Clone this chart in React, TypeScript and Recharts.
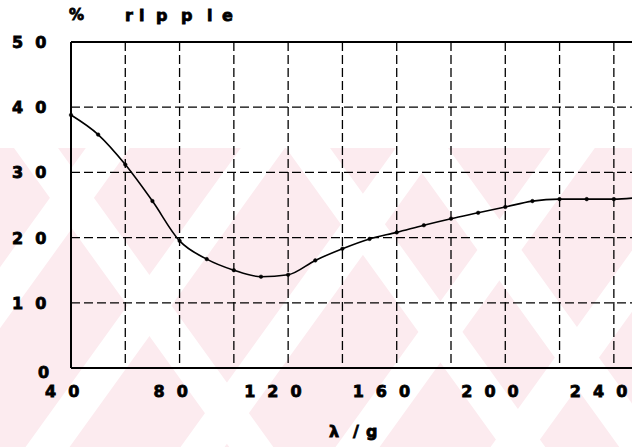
import { CartesianGrid, Line, LineChart, ReferenceLine, XAxis, YAxis } from "recharts";

const LAMBDA = [40, 50, 60, 70, 80, 90, 100, 110, 120, 130, 140, 150, 160, 170, 180, 190, 200, 210, 220, 230, 240, 250];
const RIPPLE = [38.8, 35.8, 31.2, 25.6, 19.5, 16.7, 15.0, 14.0, 14.3, 16.5, 18.3, 19.8, 20.8, 21.9, 22.9, 23.8, 24.7, 25.6, 25.9, 25.9, 25.9, 26.2];
const X_TICKS = [40, 60, 80, 100, 120, 140, 160, 180, 200, 220, 240];
const Y_TICKS = [0, 10, 20, 30, 40, 50];
const X_LABELED = [40, 80, 120, 160, 200, 240];

const data = LAMBDA.map((x, i) => ({ x, y: RIPPLE[i] }));

const FONT = "'DejaVu Sans', sans-serif";
const PINK = "#fcebef";

// faint scanned watermark: white diagonal bands over a pink field
const RISING = [2, 157, 312, 467, 622]; // band centre x at y=295
const FALLING = [36, 308, 426]; // band centre x at y=148
const RUN = 0.72;
const HALF = 22;

function rising(xc: number) {
  const top = xc + (295 - 148) * RUN;
  const bot = xc - (447 - 295) * RUN;
  return `${top - HALF},148 ${top + HALF},148 ${bot + HALF},447 ${bot - HALF},447`;
}

function falling(xc: number) {
  const bot = xc + (447 - 148) * RUN;
  return `${xc - HALF},148 ${xc + HALF},148 ${bot + HALF},447 ${bot - HALF},447`;
}

// digits spaced out like the original lettering
function Spaced({ text, x, y, gap = 12, size = 16 }: any) {
  return (
    <text x={x} y={y} fontFamily={FONT} fontWeight="bold" fontSize={size} fill="#000" stroke="#000" strokeWidth={0.8}>
      {text.split("").map((c: string, i: number) => (
        <tspan key={i} dx={i ? gap : 0}>
          {c}
        </tspan>
      ))}
    </text>
  );
}

function XTick({ x, y, payload }: any) {
  const v = payload.value;
  if (!X_LABELED.includes(v)) return null;
  const s = String(v);
  return <Spaced text={s} x={x - (s.length === 2 ? 26 : 44)} y={y + 21} />;
}

function YTick({ y, payload }: any) {
  const s = String(payload.value);
  return <Spaced text={s} x={s.length === 1 ? 38 : 12} y={y + (s.length === 1 ? 10 : 6)} />;
}

export default function App() {
  return (
    <div
      style={{
        position: "fixed",
        left: 0,
        top: 0,
        width: 632,
        height: 447,
        overflow: "hidden",
        background: "#fff",
      }}
    >
      <svg width={632} height={447} style={{ position: "absolute", left: 0, top: 0 }}>
        <rect x={0} y={148} width={632} height={299} fill={PINK} />
        {RISING.map((c) => (
          <polygon key={"r" + c} points={rising(c)} fill="#fff" />
        ))}
        {FALLING.map((c) => (
          <polygon key={"f" + c} points={falling(c)} fill="#fff" />
        ))}
      </svg>
      <div style={{ position: "absolute", left: 0, top: 0 }}>
        <LineChart width={660} height={447} data={data} margin={{ top: 42, right: 19, bottom: 0, left: 0 }}>
          <CartesianGrid stroke="#000" strokeWidth={1.3} strokeDasharray="9 4" />
          <XAxis
            dataKey="x"
            type="number"
            domain={[40, 250]}
            ticks={X_TICKS}
            height={79}
            axisLine={{ stroke: "#000", strokeWidth: 2 }}
            tickLine={false}
            tick={<XTick />}
            interval={0}
          />
          <YAxis
            type="number"
            domain={[0, 50]}
            ticks={Y_TICKS}
            width={71}
            axisLine={{ stroke: "#000", strokeWidth: 2 }}
            tickLine={false}
            tick={<YTick />}
            interval={0}
          />
          <ReferenceLine y={50} stroke="#000" strokeWidth={2} />
          <Line
            dataKey="y"
            type="monotone"
            stroke="#000"
            strokeWidth={1.6}
            dot={{ r: 1.8, fill: "#000", stroke: "#000", strokeWidth: 0.5 }}
            isAnimationActive={false}
          />
        </LineChart>
      </div>
      <svg width={632} height={447} style={{ position: "absolute", left: 0, top: 0, pointerEvents: "none" }}>
        <text x={69} y={20} fontFamily={FONT} fontWeight="bold" fontSize={15} fill="#000" stroke="#000" strokeWidth={0.8}>
          %
        </text>
        <text y={21} fontFamily={FONT} fontWeight="bold" fontSize={16} fill="#000" stroke="#000" strokeWidth={0.8}>
          <tspan x={125}>r</tspan>
          <tspan x={139}>i</tspan>
          <tspan x={156}>p</tspan>
          <tspan x={181}>p</tspan>
          <tspan x={207}>l</tspan>
          <tspan x={222}>e</tspan>
        </text>
        <text y={437} fontFamily={FONT} fontWeight="bold" fontSize={16} fill="#000" stroke="#000" strokeWidth={0.8}>
          <tspan x={329}>λ</tspan>
          <tspan x={353}>/</tspan>
          <tspan x={366}>g</tspan>
        </text>
      </svg>
    </div>
  );
}
